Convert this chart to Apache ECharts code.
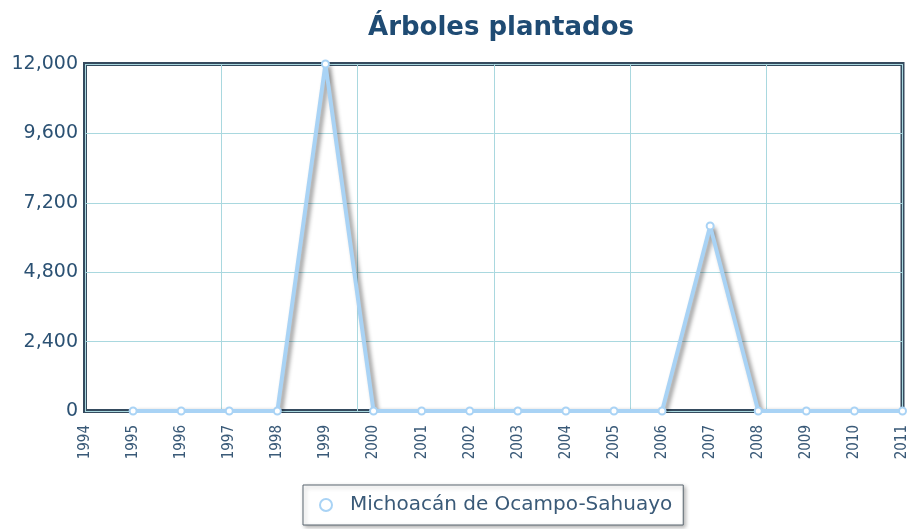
<!DOCTYPE html>
<html lang="es">
<head>
    <meta charset="UTF-8">
    <title>Árboles plantados</title>
    <script src="https://cdn.jsdelivr.net/npm/echarts@6/dist/echarts.min.js"></script>
    <style>
        body { margin: 0; background: #fff; }
        #chart { width: 910px; height: 529px; }
    </style>
</head>
<body>
<div id="chart"></div>
<script>
    // datos
    var years = [1995, 1996, 1997, 1998, 1999, 2000, 2001, 2002, 2003, 2004, 2005, 2006, 2007, 2008, 2009, 2010, 2011];
    var arboles = [0, 0, 0, 0, 12000, 0, 0, 0, 0, 0, 0, 0, 6400, 0, 0, 0, 0];
    var seriesName = 'Michoacán de Ocampo-Sahuayo';
    var yTicks = [0, 2400, 4800, 7200, 9600, 12000];

    var points = years.map(function (y, i) { return [y, arboles[i]]; });

    var myChart = echarts.init(document.getElementById('chart'));
    myChart.setOption({
        backgroundColor: '#fff',
        title: {
            text: 'Árboles plantados',
            left: 496,
            textAlign: 'center',
            top: 10,
            textStyle: { fontFamily: 'DejaVu Sans', fontSize: 26, fontWeight: 'bold', color: '#1f4b73' }
        },
        grid: {
            left: 85, right: 7, top: 64, bottom: 118,
            show: true, borderColor: '#354b5f', borderWidth: 4, backgroundColor: '#fff'
        },
        legend: {
            top: 485,
            left: 303,
            data: [{ name: seriesName, icon: 'emptyCircle' }],
            itemWidth: 12, itemHeight: 12,
            padding: [10, 11, 10, 16],
            borderColor: '#5a6670', borderWidth: 1,
            shadowColor: 'rgba(0,0,0,0.3)', shadowBlur: 4, shadowOffsetX: 2, shadowOffsetY: 2,
            backgroundColor: '#fff',
            textStyle: { fontFamily: 'DejaVu Sans', fontSize: 20, color: '#3a5a78', padding: [0, 0, 0, 13] }
        },
        xAxis: [{
            type: 'value', min: 1994, max: 2011, interval: 1,
            axisLine: { show: false },
            axisTick: { show: false },
            splitLine: { show: false },
            axisLabel: {
                rotate: 90, fontFamily: 'DejaVu Sans Condensed', fontSize: 15, color: '#3a5a78', margin: 14,
                formatter: function (v) { return String(v); }
            }
        }, {
            type: 'value', min: 0, max: 6, interval: 1, position: 'bottom',
            axisLine: { show: false }, axisTick: { show: false }, axisLabel: { show: false },
            splitLine: { show: true, lineStyle: { color: '#a9d8df', width: 1 } }
        }],
        yAxis: {
            type: 'value', min: yTicks[0], max: yTicks[yTicks.length - 1], interval: 2400,
            axisLine: { show: false },
            axisTick: { show: false },
            splitLine: { show: true, lineStyle: { color: '#a9d8df', width: 1 } },
            axisLabel: {
                fontFamily: 'DejaVu Sans', fontSize: 19, color: '#2b5173', margin: 7,
                formatter: function (v) { return v.toLocaleString('en-US'); }
            }
        },
        series: [{
            name: seriesName,
            type: 'line',
            xAxisIndex: 0,
            data: points,
            symbol: 'emptyCircle',
            symbolSize: 7,
            itemStyle: { color: '#a9d3f5', borderWidth: 1.5 },
            lineStyle: {
                color: '#a9d3f5', width: 4,
                shadowColor: 'rgba(0,0,0,0.45)', shadowBlur: 4, shadowOffsetX: 3, shadowOffsetY: 2
            },
            z: 5
        }]
    });
</script>
</body>
</html>
